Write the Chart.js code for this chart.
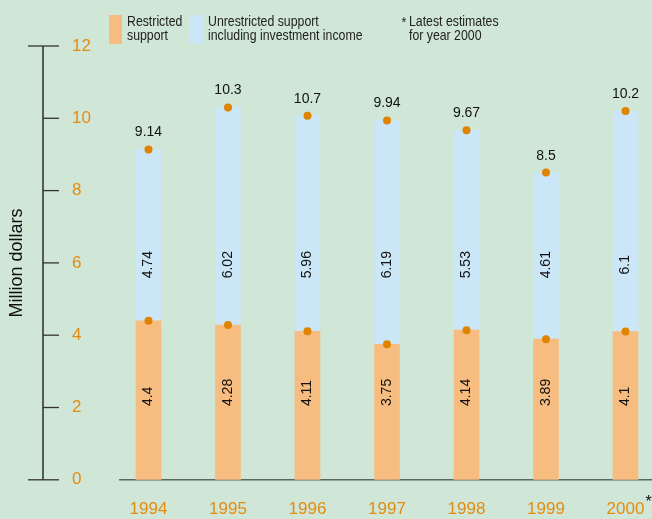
<!DOCTYPE html>
<html>
<head>
<meta charset="utf-8">
<script src="https://cdn.jsdelivr.net/npm/chart.js@4.4.0/dist/chart.umd.min.js"></script>
<style>
  html, body { margin: 0; padding: 0; background: #d0e6d6; }
  #wrap { position: relative; width: 652px; height: 519px; }
  #chart { position: absolute; left: 0; top: 0; }
  .leg { position: absolute; top: 14px; font: 15px/14px "Liberation Sans", Arial, sans-serif; color: #222; white-space: nowrap; transform: scaleX(0.82); transform-origin: 0 0; }
  .swatch { position: absolute; top: 15px; width: 13px; height: 29px; }
</style>
</head>
<body>
<div id="wrap">
  <canvas id="chart" width="652" height="519"></canvas>
  <div class="swatch" style="left:109px; background:#f7bc80"></div>
  <div class="leg" style="left:127px">Restricted<br>support</div>
  <div class="swatch" style="left:190px; background:#cbe6f6"></div>
  <div class="leg" style="left:208px">Unrestricted support<br>including investment income</div>
  <div class="leg" style="left:409px"><span style="position:absolute; left:-9px; top:1px">*</span>Latest estimates<br>for year 2000</div>
</div>
<script>
// values in million dollars
const years = ["1994", "1995", "1996", "1997", "1998", "1999", "2000"];
const restricted = [4.4, 4.28, 4.11, 3.75, 4.14, 3.89, 4.1];
const unrestricted = [4.74, 6.02, 5.96, 6.19, 5.53, 4.61, 6.1];
const totals = ["9.14", "10.3", "10.7", "9.94", "9.67", "8.5", "10.2"];
const yTicks = [0, 2, 4, 6, 8, 10, 12];

const ORANGE = "#e38c12";
const FONT = '"Liberation Sans", Arial, sans-serif';

const pts = (arr) => arr.map((v, i) => ({ x: i, y: v }));

// axis lines, tick marks, value labels
const decor = {
  id: "decor",
  beforeDatasetsDraw(chart) {
    const { ctx, chartArea, scales: { x, y } } = chart;
    const y0 = y.getPixelForValue(0);
    ctx.save();
    ctx.lineWidth = 1.5;
    ctx.strokeStyle = "#5b6861";
    ctx.beginPath();
    ctx.moveTo(x.getPixelForValue(-0.37), y0);
    ctx.lineTo(chart.width, y0);
    ctx.stroke();

    ctx.strokeStyle = "#111";
    ctx.lineWidth = 1.3;
    ctx.beginPath();
    ctx.moveTo(chartArea.left, y.getPixelForValue(12));
    ctx.lineTo(chartArea.left, y0);
    ctx.stroke();
    ctx.strokeStyle = "#333";
    yTicks.forEach((v) => {
      const py = y.getPixelForValue(v);
      const long = v === 0 || v === 12;
      ctx.beginPath();
      ctx.moveTo(chartArea.left - (long ? 15 : 0), py);
      ctx.lineTo(chartArea.left + 16, py);
      ctx.stroke();
    });
    ctx.restore();
  },
  afterDatasetsDraw(chart) {
    const { ctx, scales: { x, y } } = chart;
    const bars = chart.getDatasetMeta(0);
    const tops = chart.getDatasetMeta(3);
    ctx.save();
    ctx.fillStyle = "#111";
    ctx.font = "14px " + FONT;
    years.forEach((yr, i) => {
      const cx = bars.data[i].x;
      ctx.save();
      ctx.translate(cx, y.getPixelForValue(2.04));
      ctx.rotate(-Math.PI / 2);
      ctx.textAlign = "left";
      ctx.textBaseline = "middle";
      ctx.fillText(String(restricted[i]), 0, 0);
      ctx.restore();

      ctx.save();
      ctx.translate(cx, y.getPixelForValue(5.95));
      ctx.rotate(-Math.PI / 2);
      ctx.textAlign = "center";
      ctx.textBaseline = "middle";
      ctx.fillText(String(unrestricted[i]), 0, 0);
      ctx.restore();

      ctx.textAlign = "center";
      ctx.textBaseline = "alphabetic";
      ctx.fillText(totals[i], cx, tops.data[i].y - 13);
    });

    // asterisk after the last year
    const last = years.length - 1;
    ctx.font = "17px " + FONT;
    const w = ctx.measureText(years[last]).width;
    ctx.font = "16px " + FONT;
    ctx.textAlign = "left";
    ctx.textBaseline = "top";
    ctx.fillText("*", x.getPixelForValue(last) + w / 2 + 1, y.getPixelForValue(0) + 15);
    ctx.restore();
  }
};

new Chart(document.getElementById("chart"), {
  type: "bar",
  data: {
    datasets: [
      {
        label: "Restricted support",
        data: pts(restricted),
        backgroundColor: "#f7bc80",
        stack: "bars",
        barThickness: 25,
        order: 2
      },
      {
        label: "Unrestricted support including investment income",
        data: pts(unrestricted),
        backgroundColor: "#cbe6f6",
        stack: "bars",
        barThickness: 25,
        order: 2
      },
      {
        type: "line",
        data: pts(restricted),
        stack: "dots",
        showLine: false,
        pointRadius: 4,
        pointBorderWidth: 0,
        pointBackgroundColor: "#e08300",
        order: 1
      },
      {
        type: "line",
        data: pts(unrestricted),
        stack: "dots",
        showLine: false,
        pointRadius: 4,
        pointBorderWidth: 0,
        pointBackgroundColor: "#e08300",
        order: 1
      }
    ]
  },
  options: {
    responsive: false,
    animation: false,
    devicePixelRatio: 1,
    layout: { padding: { top: 46, left: 0, right: 0, bottom: 0 } },
    plugins: { legend: { display: false }, tooltip: { enabled: false } },
    scales: {
      x: {
        type: "linear",
        offset: false,
        min: -1.327,
        max: 6.283,
        stacked: true,
        grid: { display: false, drawTicks: false },
        border: { display: false },
        ticks: {
          stepSize: 1,
          includeBounds: false,
          autoSkip: false,
          maxRotation: 0,
          padding: 19,
          color: ORANGE,
          font: { size: 17, family: FONT },
          callback: (v) => {
            const r = Math.round(v);
            return Math.abs(v - r) < 1e-6 && r >= 0 && r < years.length ? years[r] : "";
          }
        },
        afterFit: (s) => {
          s.height = 37;
          s.paddingLeft = 0;
          s.paddingRight = 0;
        }
      },
      y: {
        min: 0,
        max: 12,
        stacked: true,
        grid: { display: false, drawTicks: false },
        border: { display: false },
        ticks: {
          stepSize: 2,
          mirror: true,
          padding: 29,
          color: ORANGE,
          font: { size: 17, family: FONT }
        },
        title: {
          display: true,
          text: "Million dollars",
          color: "#111",
          font: { size: 18, family: FONT },
          padding: { top: 6, bottom: 0 }
        },
        afterFit: (s) => { s.width = 43; }
      }
    }
  },
  plugins: [decor]
});
</script>
</body>
</html>
